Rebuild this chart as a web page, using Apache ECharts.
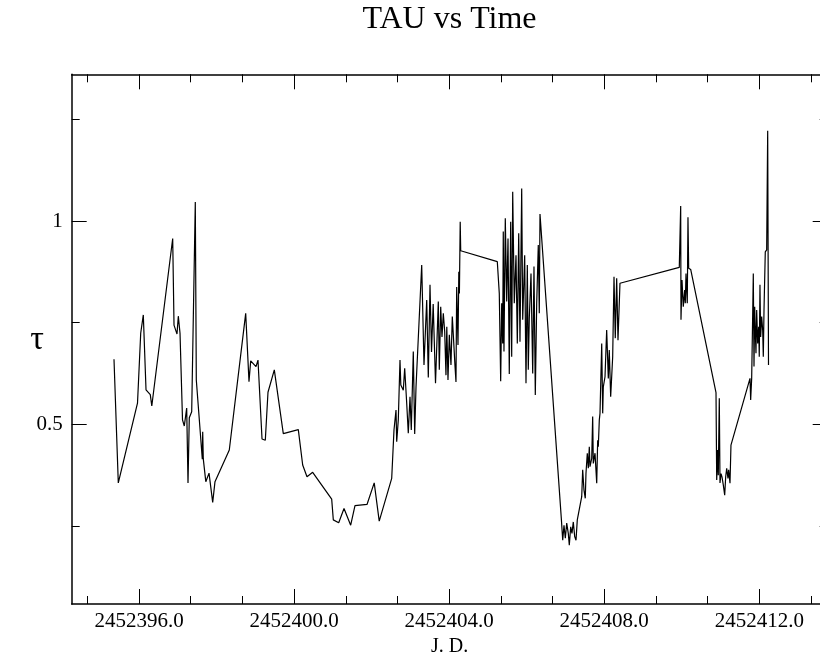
<!DOCTYPE html>
<html>
<head>
<meta charset="utf-8">
<script src="https://cdn.jsdelivr.net/npm/echarts@6/dist/echarts.min.js"></script>
<style>
  html, body { margin: 0; padding: 0; background: #fff; }
  #chart { width: 820px; height: 653px; }
</style>
</head>
<body>
<div id="chart"></div>
<script>
// Julian Date of each optical-depth measurement
const jd = [
  2452395.355, 2452395.466, 2452395.961, 2452396.044, 2452396.111, 2452396.181, 2452396.291, 2452396.330,
  2452396.869, 2452396.903, 2452396.980, 2452397.014, 2452397.058, 2452397.122, 2452397.168, 2452397.230,
  2452397.264, 2452397.297, 2452397.359, 2452397.452, 2452397.478, 2452397.633, 2452397.643, 2452397.658,
  2452397.723, 2452397.806, 2452397.901, 2452397.960, 2452398.329, 2452398.752, 2452398.837, 2452398.881,
  2452399.018, 2452399.069, 2452399.173, 2452399.258, 2452399.327, 2452399.490, 2452399.722, 2452400.109,
  2452400.222, 2452400.333, 2452400.480, 2452400.970, 2452401.012, 2452401.151, 2452401.288, 2452401.460,
  2452401.571, 2452401.881, 2452402.067, 2452402.196, 2452402.518, 2452402.577, 2452402.629, 2452402.647,
  2452402.688, 2452402.732, 2452402.753, 2452402.817, 2452402.853, 2452402.905, 2452402.946, 2452402.990,
  2452403.023, 2452403.075, 2452403.111, 2452403.145, 2452403.292, 2452403.351, 2452403.421, 2452403.462,
  2452403.506, 2452403.545, 2452403.588, 2452403.648, 2452403.720, 2452403.746, 2452403.782, 2452403.815,
  2452403.849, 2452403.885, 2452403.918, 2452403.939, 2452403.970, 2452404.004, 2452404.047, 2452404.081,
  2452404.107, 2452404.151, 2452404.176, 2452404.194, 2452404.228, 2452404.249, 2452404.264, 2452404.285,
  2452404.298, 2452405.242, 2452405.293, 2452405.311, 2452405.329, 2452405.355, 2452405.381, 2452405.396,
  2452405.414, 2452405.448, 2452405.484, 2452405.518, 2452405.551, 2452405.587, 2452405.613, 2452405.639,
  2452405.680, 2452405.724, 2452405.758, 2452405.794, 2452405.827, 2452405.871, 2452405.897, 2452405.948,
  2452405.982, 2452406.016, 2452406.041, 2452406.067, 2452406.111, 2452406.155, 2452406.188, 2452406.222,
  2452406.258, 2452406.299, 2452406.325, 2452406.343, 2452406.892, 2452406.929, 2452406.962, 2452406.996,
  2452407.032, 2452407.073, 2452407.099, 2452407.135, 2452407.168, 2452407.202, 2452407.238, 2452407.272,
  2452407.305, 2452407.341, 2452407.419, 2452407.444, 2452407.478, 2452407.511, 2452407.529, 2452407.563,
  2452407.589, 2452407.615, 2452407.633, 2452407.677, 2452407.702, 2452407.718, 2452407.762, 2452407.806,
  2452407.831, 2452407.847, 2452407.873, 2452407.891, 2452407.935, 2452407.960, 2452407.976, 2452408.020,
  2452408.063, 2452408.105, 2452408.130, 2452408.166, 2452408.218, 2452408.252, 2452408.285, 2452408.321,
  2452408.355, 2452408.406, 2452409.936, 2452409.972, 2452409.980, 2452410.006, 2452410.039, 2452410.075,
  2452410.091, 2452410.109, 2452410.142, 2452410.160, 2452410.178, 2452410.230, 2452410.883, 2452410.901,
  2452410.926, 2452410.942, 2452410.968, 2452410.986, 2452411.012, 2452411.037, 2452411.071, 2452411.107,
  2452411.133, 2452411.159, 2452411.192, 2452411.210, 2452411.244, 2452411.269, 2452411.760, 2452411.777,
  2452411.803, 2452411.829, 2452411.845, 2452411.863, 2452411.881, 2452411.896, 2452411.914, 2452411.932,
  2452411.958, 2452411.984, 2452411.999, 2452412.017, 2452412.035, 2452412.061, 2452412.087, 2452412.103,
  2452412.121, 2452412.154, 2452412.190, 2452412.216, 2452412.237
];

// Optical depth (tau) at each time
const tau = [
  0.660, 0.356, 0.552, 0.724, 0.769, 0.585, 0.573, 0.545,
  0.957, 0.744, 0.722, 0.766, 0.724, 0.511, 0.496, 0.540,
  0.356, 0.516, 0.531, 1.047, 0.609, 0.414, 0.482, 0.415,
  0.359, 0.380, 0.308, 0.359, 0.437, 0.773, 0.605, 0.656,
  0.642, 0.658, 0.464, 0.461, 0.579, 0.634, 0.477, 0.487,
  0.400, 0.371, 0.382, 0.316, 0.265, 0.258, 0.293, 0.252,
  0.300, 0.303, 0.356, 0.262, 0.367, 0.486, 0.535, 0.457,
  0.511, 0.658, 0.597, 0.584, 0.638, 0.552, 0.478, 0.568,
  0.486, 0.679, 0.476, 0.592, 0.892, 0.646, 0.806, 0.615,
  0.843, 0.678, 0.796, 0.601, 0.802, 0.634, 0.789, 0.715,
  0.773, 0.728, 0.621, 0.740, 0.609, 0.720, 0.646, 0.765,
  0.720, 0.643, 0.604, 0.838, 0.695, 0.875, 0.822, 0.998,
  0.927, 0.900, 0.822, 0.715, 0.606, 0.798, 0.699, 0.974,
  0.679, 1.007, 0.802, 0.957, 0.624, 0.998, 0.666, 1.072,
  0.798, 0.916, 0.699, 0.970, 0.703, 1.080, 0.757, 0.916,
  0.601, 0.892, 0.634, 0.761, 0.871, 0.625, 0.888, 0.572,
  0.798, 0.941, 0.773, 1.017, 0.270, 0.215, 0.252, 0.220,
  0.257, 0.232, 0.203, 0.248, 0.232, 0.260, 0.224, 0.215,
  0.265, 0.269, 0.322, 0.388, 0.338, 0.318, 0.379, 0.429,
  0.392, 0.445, 0.396, 0.416, 0.519, 0.404, 0.429, 0.355,
  0.461, 0.445, 0.511, 0.527, 0.699, 0.527, 0.592, 0.617,
  0.732, 0.613, 0.683, 0.568, 0.666, 0.863, 0.712, 0.859,
  0.707, 0.847, 0.886, 1.037, 0.757, 0.855, 0.789, 0.830,
  0.798, 0.871, 0.798, 1.009, 0.884, 0.881, 0.578, 0.363,
  0.437, 0.375, 0.564, 0.356, 0.379, 0.371, 0.351, 0.326,
  0.371, 0.392, 0.367, 0.388, 0.355, 0.449, 0.613, 0.560,
  0.613, 0.769, 0.871, 0.642, 0.789, 0.732, 0.675, 0.781,
  0.699, 0.740, 0.666, 0.843, 0.715, 0.765, 0.732, 0.666,
  0.781, 0.924, 0.929, 1.222, 0.646
];

// Axis extents and tick positions
const xRange = [2452394.264, 2452413.764];
const yRange = [0.0582, 1.3608];
const xMajorTicks = [2452396, 2452400, 2452404, 2452408, 2452412];
const xMinorTicks = [2452394.6667, 2452397.3333, 2452398.6667, 2452401.3333, 2452402.6667,
                     2452405.3333, 2452406.6667, 2452409.3333, 2452410.6667, 2452413.3333];
const yMajorTicks = [0.5, 1.0];
const yMinorTicks = [0.25, 0.75, 1.25];

const SERIF = '"Liberation Serif", "Times New Roman", Times, serif';

function axis(kind, position, ticks, tickLen, withLabels, withLine) {
  const range = kind === 'x' ? xRange : yRange;
  const cfg = {
    type: 'value',
    position: position,
    min: range[0],
    max: range[1],
    splitLine: { show: false },
    axisLine: { show: withLine, onZero: false, lineStyle: { color: '#000', width: 1.5 } },
    axisTick: { show: true, inside: true, length: tickLen, customValues: ticks,
                lineStyle: { color: '#000', width: 1 } },
    axisLabel: { show: false }
  };
  if (withLabels) {
    cfg.axisLabel = {
      show: true,
      customValues: ticks,
      color: '#000',
      fontFamily: SERIF,
      fontSize: 21,
      margin: kind === 'x' ? 7 : 9,
      formatter: kind === 'x' ? (v) => v.toFixed(1) : (v) => String(v)
    };
  }
  return cfg;
}

const xAxes = [
  axis('x', 'bottom', xMajorTicks, 15, true, true),
  axis('x', 'bottom', xMinorTicks, 8, false, false),
  axis('x', 'top', xMajorTicks, 15, false, true),
  axis('x', 'top', xMinorTicks, 8, false, false)
];
xAxes[0].name = 'J. D.';
xAxes[0].nameLocation = 'middle';
xAxes[0].nameGap = 27;
xAxes[0].nameTextStyle = { color: '#000', fontFamily: SERIF, fontSize: 20 };

const yAxes = [
  axis('y', 'left', yMajorTicks, 15, true, true),
  axis('y', 'left', yMinorTicks, 8, false, false),
  axis('y', 'right', yMajorTicks, 15, false, true),
  axis('y', 'right', yMinorTicks, 8, false, false)
];

const chart = echarts.init(document.getElementById('chart'), null, { renderer: 'canvas' });
chart.setOption({
  animation: false,
  backgroundColor: '#fff',
  title: {
    text: 'TAU vs Time',
    left: 449.5,
    top: 4,
    textAlign: 'center',
    padding: 0,
    textStyle: { color: '#000', fontFamily: SERIF, fontSize: 32, fontWeight: 'normal' }
  },
  grid: {
    left: 71.7, top: 74.3, width: 756, height: 529.7,
    containLabel: false,
    outerBoundsMode: 'none'
  },
  xAxis: xAxes,
  yAxis: yAxes,
  graphic: [{
    type: 'text',
    x: 37,
    y: 340,
    style: {
      text: 'τ',
      font: '34px ' + SERIF,
      textAlign: 'center',
      textVerticalAlign: 'middle',
      fill: '#000'
    }
  }],
  series: [{
    type: 'line',
    xAxisIndex: 0,
    yAxisIndex: 0,
    data: jd.map((t, i) => [t, tau[i]]),
    showSymbol: false,
    symbol: 'none',
    lineStyle: { color: '#000', width: 1.2 },
    clip: true
  }]
});
</script>
</body>
</html>
